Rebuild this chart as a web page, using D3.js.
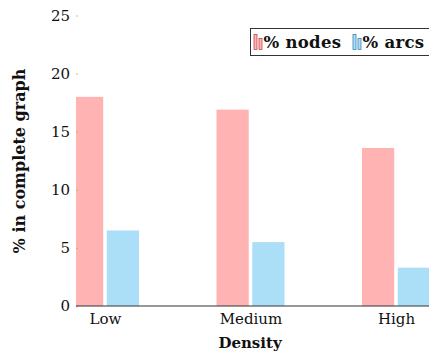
<!DOCTYPE html>
<html>
<head>
<meta charset="utf-8">
<script src="https://cdn.jsdelivr.net/npm/d3@7"></script>
<style>
  body { margin: 0; background: #fff; }
  svg text { font-family: "DejaVu Serif", "Liberation Serif", serif; fill: #111; }
</style>
</head>
<body>
<div id="chart"></div>
<script>
// datos
const categorias = ["Low", "Medium", "High"];
const series = ["% nodes", "% arcs"];
const nodos = [18.0, 16.9, 13.6];
const arcos = [6.5, 5.5, 3.3];
const ticksY = [0, 5, 10, 15, 20, 25];

const colores = { "% nodes": "#ffb3b3", "% arcs": "#abdff8" };
const bordes = { "% nodes": "#c44b4b", "% arcs": "#3d86b8" };

const W = 429, H = 356;
const margin = { top: 15.5, right: 0, bottom: 50, left: 76 };

const datos = categorias.map((c, i) => ({ cat: c, "% nodes": nodos[i], "% arcs": arcos[i] }));

const svg = d3.select("#chart").append("svg")
  .attr("width", W)
  .attr("height", H);

const y = d3.scaleLinear().domain([0, 25]).range([306, margin.top]);
const x = d3.scalePoint().domain(categorias).range([105, 396]);
const xs = d3.scaleBand().domain(series).range([-34, 34]).paddingInner(0.1);

// recorte del area de dibujo
svg.append("clipPath").attr("id", "area")
  .append("rect")
  .attr("x", margin.left).attr("y", 0)
  .attr("width", W - margin.left).attr("height", 306);

const barras = svg.append("g").attr("clip-path", "url(#area)");
barras.selectAll("g")
  .data(datos)
  .join("g")
  .attr("transform", d => `translate(${x(d.cat)},0)`)
  .selectAll("rect")
  .data(d => series.map(s => ({ s, v: d[s] })))
  .join("rect")
  .attr("x", d => xs(d.s))
  .attr("width", xs.bandwidth())
  .attr("y", d => y(d.v))
  .attr("height", d => y(0) - y(d.v))
  .attr("fill", d => colores[d.s]);

// eje y
const ejeY = svg.append("g")
  .attr("transform", `translate(${margin.left},0)`)
  .call(d3.axisLeft(y).tickValues(ticksY).tickSize(-2).tickPadding(6));
ejeY.select(".domain").remove();
ejeY.selectAll(".tick line").attr("stroke", "#aaa").attr("stroke-width", 0.8);
ejeY.selectAll("text").style("font-size", "15px").attr("fill", "#111");

// eje x
const ejeX = svg.append("g")
  .attr("transform", "translate(0,306)")
  .call(d3.axisBottom(x).tickSize(0).tickPadding(7));
ejeX.select(".domain").remove();
ejeX.selectAll("text").style("font-size", "15px").attr("fill", "#111");
svg.append("line")
  .attr("x1", margin.left).attr("x2", W)
  .attr("y1", 306).attr("y2", 306)
  .attr("stroke", "#333").attr("stroke-width", 1.2);

// titulos
svg.append("text")
  .attr("x", 250).attr("y", 348)
  .attr("text-anchor", "middle")
  .style("font-size", "15px").style("font-weight", "bold")
  .text("Density");

svg.append("text")
  .attr("transform", "translate(25,161) rotate(-90)")
  .attr("text-anchor", "middle")
  .style("font-size", "16px").style("font-weight", "bold")
  .text("% in complete graph");

// leyenda
const ley = svg.append("g");
ley.append("rect")
  .attr("x", 250.5).attr("y", 28.5)
  .attr("width", 200).attr("height", 27)
  .attr("fill", "#fff").attr("stroke", "#333").attr("stroke-width", 1);

const posLey = [253.5, 352.5];
series.forEach((s, i) => {
  const g = ley.append("g").attr("transform", `translate(${posLey[i]},0)`);
  g.append("rect").attr("x", 0.5).attr("y", 34.5).attr("width", 3).attr("height", 15)
    .attr("fill", colores[s]).attr("stroke", bordes[s]).attr("stroke-width", 0.8);
  g.append("rect").attr("x", 5.5).attr("y", 38.5).attr("width", 3).attr("height", 11)
    .attr("fill", colores[s]).attr("stroke", bordes[s]).attr("stroke-width", 0.8);
  g.append("text").attr("x", 10).attr("y", 47.5)
    .style("font-size", "16.5px").style("font-weight", "bold")
    .style("letter-spacing", "0.3px")
    .text(s);
});
</script>
</body>
</html>
